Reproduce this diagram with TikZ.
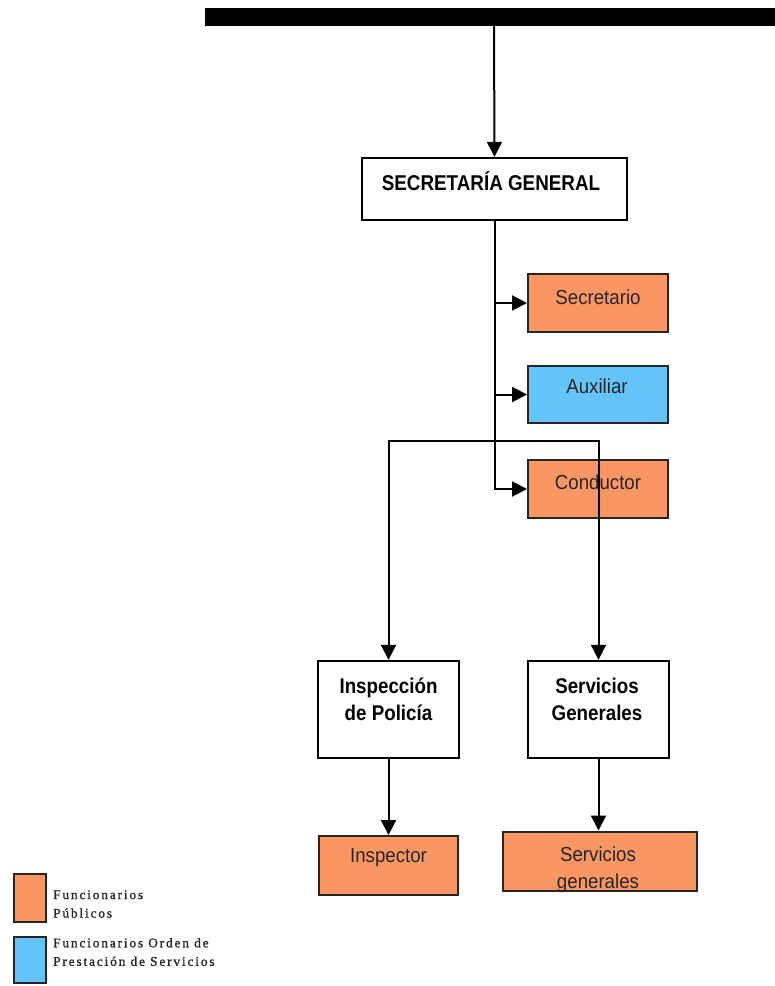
\documentclass[tikz,border=0pt]{standalone}
\usepackage{fontspec}
\setmainfont{Liberation Sans}
\newfontfamily\boxfont[FakeStretch=0.92]{Liberation Sans}
\newfontfamily\boldfont[FakeStretch=0.88]{Liberation Sans}
\newfontfamily\legfont[LetterSpace=14,FakeBold=1.2]{Liberation Serif}
\usetikzlibrary{arrows.meta}
\definecolor{orgbox}{RGB}{250,150,100}
\definecolor{bluebox}{RGB}{100,196,250}
\begin{document}
\begin{tikzpicture}[x=1pt,y=-1pt,
  whitebox/.style={draw=black,line width=2.4pt,fill=white,inner sep=0pt},
  orangebox/.style={draw=black!85,line width=2pt,fill=orgbox,inner sep=0pt},
  bluebx/.style={draw=black!85,line width=2pt,fill=bluebox,inner sep=0pt},
  conn/.style={line width=2pt,draw=black},
  arr/.style={conn,-{Triangle[length=15pt,width=15pt]}},
  regtxt/.style={font=\boxfont\fontsize{20.3}{24}\selectfont,inner sep=0pt,text=black!85},
  boldtxt/.style={font=\boldfont\bfseries\fontsize{21.3}{27}\selectfont,inner sep=0pt,align=center},
  legtxt/.style={font=\legfont\fontsize{13.3}{18.5}\selectfont,inner sep=0pt,align=left,anchor=west,text=black!85}
]
\useasboundingbox (0,0) rectangle (775,986);
% top bar
\fill[black] (205,8) rectangle (775,26);
\coordinate (bartop) at (494,26);
% boxes
\node[whitebox,minimum width=265pt,minimum height=62pt] (sg) at (494.5,189) {};
\node[font=\boldfont\bfseries\fontsize{21.4}{24}\selectfont,inner sep=0pt] (sgt) at (491,181) {SECRETARÍA GENERAL};
\node[orangebox,minimum width=140pt,minimum height=58pt] (sec) at (598,303) {};
\node[regtxt] (sect) at (598,297) {Secretario};
\node[bluebx,minimum width=140pt,minimum height=57pt] (aux) at (598,394.5) {};
\node[regtxt] (auxt) at (597,386) {Auxiliar};
\node[orangebox,minimum width=140pt,minimum height=58pt] (cond) at (598,489) {};
\node[regtxt] (condt) at (598,482) {Conductor};
\node[whitebox,minimum width=141pt,minimum height=97pt] (insp) at (388.5,709.5) {};
\node[boldtxt] (inspt) at (388.5,699) {Inspección\\de Policía};
\node[whitebox,minimum width=141pt,minimum height=97pt] (servg) at (598.5,709.5) {};
\node[boldtxt] (servgt) at (597,699) {Servicios\\Generales};
\node[orangebox,minimum width=139pt,minimum height=59pt] (inspr) at (388.5,865.5) {};
\node[regtxt] (insprt) at (388.5,858) {Inspector};
\node[orangebox,minimum width=194pt,minimum height=59pt] (sgen) at (600,861) {};
\node[regtxt,align=center,font=\boxfont\fontsize{20.3}{27}\selectfont] (sgent) at (598,870) {Servicios\\generales};
% legend
\node[orangebox,minimum width=32pt,minimum height=48pt] (lego) at (30,898) {};
\node[legtxt] (legot) at (53,904) {Funcionarios\\Públicos};
\node[bluebx,minimum width=32pt,minimum height=46pt] (legb) at (30,960) {};
\node[legtxt] (legbt) at (53,952) {Funcionarios Orden de\\Prestación de Servicios};
% connectors
\draw[arr] (bartop) -- (sg.north);
\draw[arr] (sg.south) |- (cond.west);
\draw[arr] (sg.south |- sec.west) -- (sec.west);
\draw[arr] (sg.south |- aux.west) -- (aux.west);
\coordinate (hl) at (494,441);
\draw[arr] (hl) -| (insp.north);
\draw[arr] (hl) -| (servg.north);
\draw[arr] (insp.south) -- (inspr.north);
\draw[arr] (servg.south) -- (servg.south |- sgen.north);
\end{tikzpicture}
\end{document}
